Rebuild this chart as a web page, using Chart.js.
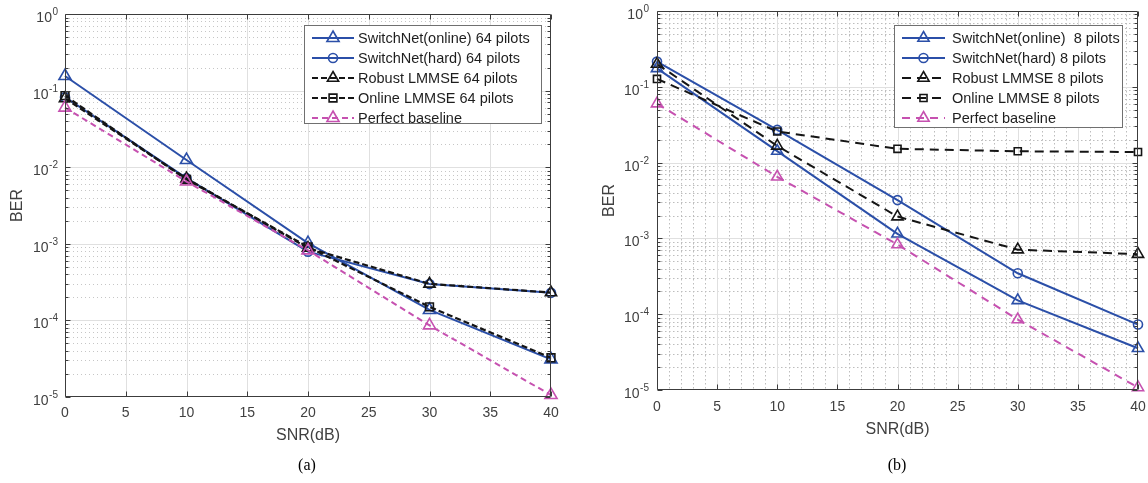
<!DOCTYPE html>
<html>
<head>
<meta charset="utf-8">
<script src="https://cdn.jsdelivr.net/npm/chart.js@4.4.0/dist/chart.umd.min.js"></script>
<style>
  body { margin: 0; background: #fff; width: 1148px; height: 483px; overflow: hidden; position: relative; }
  canvas { position: absolute; top: 0; }
  #chartA { left: 0; }
  #chartB { left: 590px; }
  .cap { position: absolute; top: 456px; width: 40px; text-align: center;
         font: 16px "Liberation Serif", "Times New Roman", serif; color: #000; }
</style>
</head>
<body>
<canvas id="chartA" width="560" height="483"></canvas>
<canvas id="chartB" width="558" height="483"></canvas>
<div class="cap" style="left:287px">(a)</div>
<div class="cap" style="left:877px">(b)</div>
<script>
// SNR points and axis ticks
const snr = [0, 10, 20, 30, 40];
const xTicks = [0, 5, 10, 15, 20, 25, 30, 35, 40];
const yDecades = [-5, -4, -3, -2, -1, 0];

// (a) 64 pilots
const labelsA = ['SwitchNet(online) 64 pilots', 'SwitchNet(hard) 64 pilots', 'Robust LMMSE 64 pilots', 'Online LMMSE 64 pilots', 'Perfect baseline'];
const onlineA = [0.155, 0.0124, 0.00102, 0.000137, 0.000031];
const hardA = [0.082, 0.0072, 0.00079, 0.000298, 0.000229];
const robustA = [0.079, 0.0071, 0.00088, 0.000300, 0.000231];
const onlineLmmseA = [0.086, 0.0069, 0.00091, 0.000150, 0.0000325];
const perfectA = [0.060, 0.0065, 0.00082, 0.000086, 0.0000106];

// (b) 8 pilots
const labelsB = ['SwitchNet(online)  8 pilots', 'SwitchNet(hard) 8 pilots', 'Robust LMMSE 8 pilots', 'Online LMMSE 8 pilots', 'Perfect baseline'];
const onlineB = [0.175, 0.0142, 0.00115, 0.000152, 0.0000355];
const hardB = [0.215, 0.027, 0.0032, 0.000347, 0.000073];
const robustB = [0.20, 0.0166, 0.00194, 0.00071, 0.00062];
const onlineLmmseB = [0.127, 0.0257, 0.0152, 0.0141, 0.0138];
const perfectB = [0.060, 0.0065, 0.00083, 0.000085, 0.0000108];

const BLUE = '#2b4fa8', BLACK = '#151515', MAG = '#c651b0';
const FONT = '"Liberation Sans", Arial, sans-serif';
const TXT = '#404040';

function series(i, label, values, color, dash, shape, r, width) {
  return {
    label,
    data: snr.map((s, k) => ({ x: s, y: values[k] })),
    borderColor: color,
    borderWidth: width,
    borderDash: dash,
    pointStyle: shape,
    pointRadius: r,
    pointHoverRadius: r,
    pointBorderColor: color,
    pointBackgroundColor: 'rgba(0,0,0,0)',
    pointBorderWidth: 1.6,
    tension: 0,
    fill: false,
    clip: false,
    order: -i
  };
}

// grid, box, tick labels and legend drawn around the library's scales
const paper = {
  id: 'paper',
  beforeDatasetsDraw(chart, args, o) {
    const { ctx, chartArea: a, scales: { x, y } } = chart;
    ctx.save();
    ctx.lineWidth = 1;
    ctx.strokeStyle = o.minorColor;
    ctx.setLineDash(o.minorDash);
    ctx.beginPath();
    for (let d = -5; d < 0; d++) {
      for (let k = 2; k <= 9; k++) {
        const py = Math.round(y.getPixelForValue(k * Math.pow(10, d))) + 0.5;
        ctx.moveTo(a.left, py); ctx.lineTo(a.right, py);
      }
    }
    if (o.minorX) {
      for (let v = 1; v < 40; v++) {
        if (v % 5 === 0) continue;
        const px = Math.round(x.getPixelForValue(v)) + 0.5;
        ctx.moveTo(px, a.top); ctx.lineTo(px, a.bottom);
      }
    }
    ctx.stroke();
    ctx.setLineDash([]);
    ctx.strokeStyle = '#e0e0e0';
    ctx.beginPath();
    yDecades.slice(1, -1).forEach(d => {
      const py = Math.round(y.getPixelForValue(Math.pow(10, d))) + 0.5;
      ctx.moveTo(a.left, py); ctx.lineTo(a.right, py);
    });
    xTicks.slice(1, -1).forEach(v => {
      const px = Math.round(x.getPixelForValue(v)) + 0.5;
      ctx.moveTo(px, a.top); ctx.lineTo(px, a.bottom);
    });
    ctx.stroke();
    ctx.restore();
  },
  afterDraw(chart, args, o) {
    const { ctx, chartArea: a, scales: { x, y } } = chart;
    const L = Math.round(a.left) + 0.5, R = Math.round(a.right) - 0.5;
    const T = Math.round(a.top) + 0.5, B = Math.round(a.bottom) - 0.5;
    ctx.save();
    // box and ticks
    ctx.strokeStyle = '#3c3c3c';
    ctx.lineWidth = 1;
    ctx.beginPath();
    ctx.rect(L, T, R - L, B - T);
    xTicks.forEach(v => {
      const px = Math.round(x.getPixelForValue(v)) + 0.5;
      ctx.moveTo(px, B); ctx.lineTo(px, B - 5);
      ctx.moveTo(px, T); ctx.lineTo(px, T + 5);
    });
    for (let d = -5; d < 0; d++) {
      for (let k = 1; k <= 9; k++) {
        const py = Math.round(y.getPixelForValue(k * Math.pow(10, d))) + 0.5;
        const len = k === 1 ? 5 : 3;
        ctx.moveTo(L, py); ctx.lineTo(L + len, py);
        ctx.moveTo(R, py); ctx.lineTo(R - len, py);
      }
    }
    ctx.stroke();

    // tick labels
    ctx.fillStyle = TXT;
    ctx.font = '14px ' + FONT;
    ctx.textAlign = 'center';
    ctx.textBaseline = 'middle';
    xTicks.forEach(v => ctx.fillText(String(v), x.getPixelForValue(v), a.bottom + o.xLabelGap));
    yDecades.forEach(d => {
      const py = y.getPixelForValue(Math.pow(10, d));
      const ex = d === 0 ? '0' : '-' + (-d);
      ctx.textBaseline = 'alphabetic';
      ctx.textAlign = 'right';
      ctx.font = '10px ' + FONT;
      const exRight = a.left - o.yLabelGap;
      ctx.fillText(ex, exRight, py + 1);
      const ew = ctx.measureText(ex).width;
      ctx.font = '14px ' + FONT;
      ctx.fillText('10', exRight - ew - 0.5, py + 8);
    });

    // axis titles
    ctx.font = '16px ' + FONT;
    ctx.textAlign = 'center';
    ctx.textBaseline = 'middle';
    ctx.fillText('SNR(dB)', (a.left + a.right) / 2, o.xTitleY);
    ctx.save();
    ctx.translate(o.yTitleX, (a.top + a.bottom) / 2);
    ctx.rotate(-Math.PI / 2);
    ctx.fillText('BER', 0, 0);
    ctx.restore();

    // legend box
    const g = o.legend;
    ctx.fillStyle = '#fff';
    ctx.fillRect(g.left, g.top, g.right - g.left, g.bottom - g.top);
    ctx.strokeStyle = '#707070';
    ctx.lineWidth = 1;
    ctx.strokeRect(g.left + 0.5, g.top + 0.5, g.right - g.left - 1, g.bottom - g.top - 1);
    chart.data.datasets.forEach((ds, i) => {
      const ry = g.top + g.first + i * g.step;
      ctx.strokeStyle = ds.borderColor;
      ctx.lineWidth = ds.borderWidth;
      ctx.setLineDash(ds.borderDash);
      ctx.beginPath();
      ctx.moveTo(g.left + g.lineStart, ry);
      ctx.lineTo(g.left + g.lineEnd, ry);
      ctx.stroke();
      ctx.setLineDash([]);
      ctx.fillStyle = 'rgba(0,0,0,0)';
      ctx.lineWidth = ds.pointBorderWidth;
      Chart.helpers.drawPoint(ctx, { pointStyle: ds.pointStyle, radius: ds.pointRadius, rotation: 0, borderWidth: ds.pointBorderWidth },
        g.left + (g.lineStart + g.lineEnd) / 2, ry);
      ctx.fillStyle = '#1e1e1e';
      ctx.font = '14.5px ' + FONT;
      ctx.textAlign = 'left';
      ctx.textBaseline = 'middle';
      ctx.fillText(ds.label, g.left + g.textX, ry + 1);
    });
    ctx.restore();
  }
};

function makeChart(id, labels, values, styles, geo) {
  const datasets = values.map((v, i) => {
    const s = styles[i];
    return series(i, labels[i], v, s.color, s.dash, s.shape, s.r, s.width);
  });
  return new Chart(document.getElementById(id), {
    type: 'line',
    data: { datasets },
    options: {
      responsive: false,
      animation: false,
      devicePixelRatio: 1,
      layout: { padding: { top: geo.top, right: geo.right, left: 0, bottom: 0 } },
      scales: {
        x: {
          type: 'linear', min: 0, max: 40,
          ticks: { display: false, stepSize: 5 },
          grid: { display: false }, border: { display: false },
          afterFit: s => { s.height = geo.xHeight; }
        },
        y: {
          type: 'logarithmic', min: 1e-5, max: 1,
          ticks: { display: false },
          grid: { display: false }, border: { display: false },
          afterFit: s => { s.width = geo.yWidth; }
        }
      },
      plugins: {
        legend: { display: false },
        tooltip: { enabled: false },
        paper: geo.paper
      }
    },
    plugins: [paper]
  });
}

const stylesA = [
  { color: BLUE, dash: [], shape: 'triangle', r: 7, width: 2 },
  { color: BLUE, dash: [], shape: 'circle', r: 4.5, width: 2 },
  { color: BLACK, dash: [6, 3], shape: 'triangle', r: 6.5, width: 2.2 },
  { color: BLACK, dash: [6, 3], shape: 'rect', r: 5.5, width: 2.2 },
  { color: MAG, dash: [6, 4], shape: 'triangle', r: 7, width: 2 }
];
const stylesB = [
  { color: BLUE, dash: [], shape: 'triangle', r: 6.5, width: 2 },
  { color: BLUE, dash: [], shape: 'circle', r: 4.5, width: 2 },
  { color: BLACK, dash: [9, 6], shape: 'triangle', r: 6.5, width: 2 },
  { color: BLACK, dash: [9, 6], shape: 'rect', r: 5, width: 2 },
  { color: MAG, dash: [8, 6], shape: 'triangle', r: 6.5, width: 2 }
];

makeChart('chartA', labelsA, [onlineA, hardA, robustA, onlineLmmseA, perfectA], stylesA, {
  top: 14, right: 9, xHeight: 86, yWidth: 65,
  paper: {
    minorColor: '#c6c6c6', minorDash: [1, 3], minorX: false,
    xLabelGap: 16, yLabelGap: 7, xTitleY: 436, yTitleX: 18,
    legend: { left: 304, right: 542, top: 25, bottom: 124, first: 13, step: 20, lineStart: 8, lineEnd: 50, textX: 54 }
  }
});

makeChart('chartB', labelsB, [onlineB, hardB, robustB, onlineLmmseB, perfectB], stylesB, {
  top: 11, right: 10, xHeight: 93, yWidth: 67,
  paper: {
    minorColor: '#bdbdbd', minorDash: [1.5, 2.5], minorX: true,
    xLabelGap: 17, yLabelGap: 8, xTitleY: 430, yTitleX: 20,
    legend: { left: 304, right: 533, top: 25, bottom: 128, first: 13, step: 20, lineStart: 8, lineEnd: 51, textX: 58 }
  }
});
</script>
</body>
</html>
